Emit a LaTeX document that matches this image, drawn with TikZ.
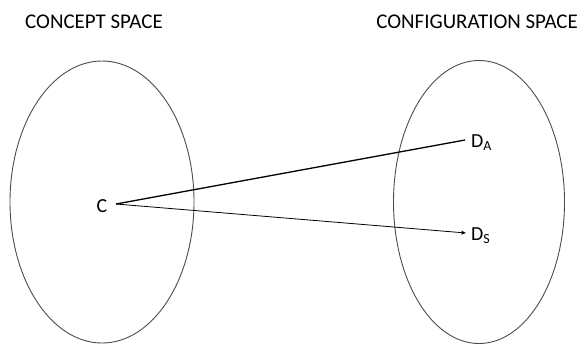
\documentclass[tikz,border=0pt]{standalone}
\usepackage{fontspec}
\setmainfont{Carlito}
\usetikzlibrary{arrows.meta}
\begin{document}
\begin{tikzpicture}[x=1bp,y=-1bp,
  space/.style={draw=black!70,line width=0.9bp},
  lbl/.style={font=\fontsize{20}{24}\selectfont,inner sep=0pt},
  title/.style={font=\fontsize{21}{25}\selectfont,inner sep=0pt}]
\useasboundingbox (0,0) rectangle (584,345);
\draw[space] (102,202) ellipse [x radius=92, y radius=141];
\draw[space] (479,202) ellipse [x radius=85.5, y radius=141.5];
\node[title,anchor=base west] (t1) at (25,28) {CONCEPT SPACE};
\node[title,anchor=base east] (t2) at (578,28) {CONFIGURATION SPACE};
\node[lbl,anchor=base] (c) at (102,212) {C};
\node[lbl,anchor=base west] (da) at (471,147) {D\textsubscript{A}};
\node[lbl,anchor=base west] (ds) at (471,240) {D\textsubscript{S}};
\coordinate (cs) at (116,204);
\coordinate (ae) at (465,140);
\coordinate (se) at (466,233);
\draw[line width=1.3bp] (cs) -- (ae);
\draw[line width=0.8bp,-{Stealth[length=5bp,width=4bp]}] (cs) -- (se);
\end{tikzpicture}
\end{document}
